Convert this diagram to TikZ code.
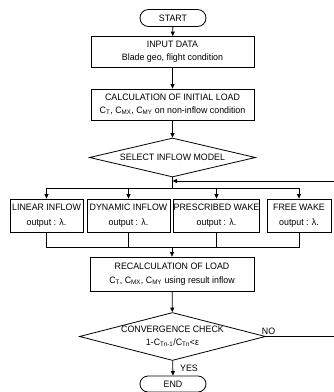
\documentclass[tikz,border=0pt]{standalone}
\usepackage{fontspec}
\setmainfont{Liberation Sans}[FakeStretch=0.95]
\usetikzlibrary{shapes.geometric,shapes.misc,arrows.meta}
\begin{document}
\begin{tikzpicture}[x=1pt,y=-1pt,line width=0.8pt,
  every node/.style={font=\fontsize{9.3}{11}\selectfont, inner sep=0pt},
  term/.style={draw, rounded rectangle, minimum width=66pt, minimum height=17pt},
  pbox/.style={draw, rectangle, align=center},
  dia/.style={draw, diamond, aspect=4, inner sep=0pt, align=center},
  arr/.style={-{Triangle[length=4.5pt,width=4pt]}}
]
\useasboundingbox (0,0) rectangle (334,392);
\node[term] (start) at (173,18) {START};
\node[pbox, minimum width=163pt, minimum height=31pt] (input) at (172.5,52) {INPUT DATA\\[2pt]Blade geo, flight condition};
\node[pbox, minimum width=163pt, minimum height=31pt] (calc) at (172.5,104.5) {CALCULATION OF INITIAL LOAD\\[2pt]C\textsubscript{T}, C\textsubscript{MX}, C\textsubscript{MY} on non-inflow condition};
\node[dia, minimum width=166pt, minimum height=39pt] (sel) at (172.5,157.5) {SELECT INFLOW MODEL};
\node[pbox, minimum width=73pt, minimum height=33pt] (lin) at (46.5,215.5) {LINEAR INFLOW\\[4pt]output : λ.};
\node[pbox, minimum width=83pt, minimum height=33pt] (dyn) at (128.5,215.5) {DYNAMIC INFLOW\\[4pt]output : λ.};
\node[pbox, minimum width=81pt, minimum height=33pt] (pre) at (216.5,215.5) {PRESCRIBED WAKE\\[4pt]output : λ.};
\node[pbox, minimum width=64pt, minimum height=33pt] (free) at (299,215.5) {FREE WAKE\\[4pt]output : λ.};
\node[pbox, minimum width=164pt, minimum height=34pt] (recalc) at (172,274) {RECALCULATION OF LOAD\\[3pt]C\textsubscript{T}, C\textsubscript{MX}, C\textsubscript{MY} using result inflow};
\node[dia, minimum width=165pt, minimum height=48pt] (conv) at (172.5,336.5) {CONVERGENCE CHECK\\[2pt]1-C\textsubscript{Tn-1}/C\textsubscript{Tn}<ε};
\node[term, minimum height=16pt] (end) at (173,384) {END};
\node (no) at (268.5,331) {NO};
\node (yes) at (189,368) {YES};
\coordinate (fbin) at (172.5,181);
\coordinate (br) at (172.5,188);
\coordinate (mg) at (172,247);
\coordinate (noturn) at (335,336.5);
\coordinate (upturn) at (335,181);
\draw[arr] (start) -- (input);
\draw[arr] (input) -- (calc);
\draw[arr] (calc) -- (sel);
\draw (sel.south) -- (br);
\draw[arr] (br) -| (lin.north);
\draw[arr] (br) -| (dyn.north);
\draw[arr] (br) -| (pre.north);
\draw[arr] (br) -| (free.north);
\draw[arr] (conv.east) -- (noturn) -- (upturn) -- (fbin);
\draw (lin.south) |- (mg);
\draw (dyn.south) |- (mg);
\draw (pre.south) |- (mg);
\draw (free.south) |- (mg);
\draw[arr] (mg) -- (recalc.north);
\draw[arr] (recalc) -- (conv);
\draw[arr] (conv) -- (end);
\end{tikzpicture}
\end{document}
